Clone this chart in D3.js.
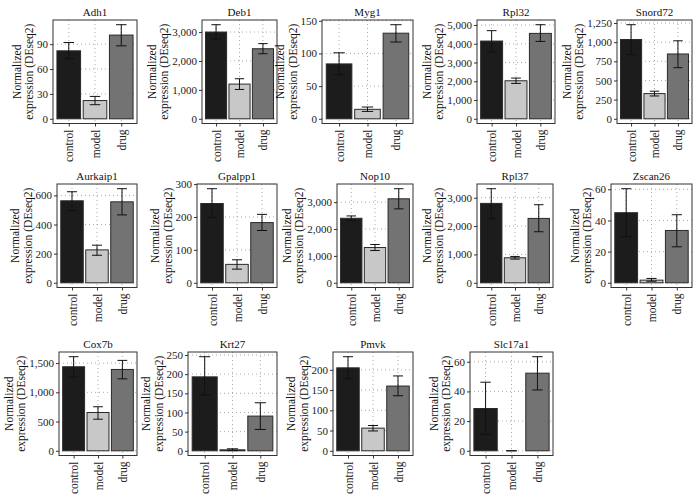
<!DOCTYPE html>
<html><head><meta charset="utf-8">
<script src="https://cdn.jsdelivr.net/npm/d3@7"></script>
<style>body{margin:0;background:#fff} svg{display:block}</style>
</head><body>
<svg id="chart" width="700" height="500"></svg>
<script>
// ---------- data ----------
const genes = ["Adh1","Deb1","Myg1","Rpl32","Snord72","Aurkaip1","Gpalpp1","Nop10","Rpl37","Zscan26","Cox7b","Krt27","Pmvk","Slc17a1"];
const groups = ["control","model","drug"];
const means = [
  [82,22,101],[3000,1200,2423],[84,14.5,131],[4146,2028,4555],[1035,329,846],
  [563,226,556],[241,56,183],[2400,1312,3125],[2800,882,2270],[45,1.7,33.6],
  [1437,655,1391],[193,2.6,90.6],[205,56,160],[28.5,0,52.3]
];
const lower = [
  [72.5,17,88],[2758,1015,2250],[67.5,11.3,117.5],[3560,1886,4128],[838,298,667],
  [496,189,466],[199,41.5,159],[2325,1200,2750],[2259,835,1800],[29.6,1.0,23.1],
  [1264,540,1230],[145.5,0.5,55.7],[178,49,136],[11.1,0,41]
];
const upper = [
  [92,27,113.5],[3254,1385,2600],[101,18,144],[4700,2171,5018],[1228,360,1018],
  [625,258,646],[286,70,208],[2487,1425,3500],[3318,929,2753],[60.4,2.8,43.7],
  [1609,753,1546],[245.6,5.2,125.4],[232.5,62.5,185],[46.2,0,63.4]
];
const yTicks = [
  [0,30,60,90],[0,1000,2000,3000],[0,50,100,150],[0,1000,2000,3000,4000,5000],[0,250,500,750,1000,1250],
  [0,200,400,600],[0,100,200,300],[0,1000,2000,3000],[0,1000,2000,3000],[0,20,40,60],
  [0,500,1000,1500],[0,50,100,150,200,250],[0,50,100,150,200],[0,20,40,60]
];
const yTitle = ["Normalized","expression (DEseq2)"];

// ---------- layout (panel boxes: left, right; rows: top, bottom) ----------
const panelLR = [
  [53,137],[202,277],[322,413],[477,555],[617,692],
  [57,137],[197,277],[337,413],[477,553],[611,692],
  [59,137],[188,277],[333,413],[470,553]
];
const rowTB = [[20,123.5],[184,287.5],[352,455.5]];
const colors = {control:"#1c1c1c", model:"#c8c8c8", drug:"#737373"};
const font = "'Liberation Serif','DejaVu Serif',serif";

const svg = d3.select("#chart");
svg.append("rect").attr("width",700).attr("height",500).attr("fill","#fff");

genes.forEach((gene,i)=>{
  const row = Math.floor(i/5);
  const [L,R] = panelLR[i];
  const [T,B] = rowTB[row];
  const lo = Math.min(0, d3.min(lower[i])), hi = d3.max(upper[i]);
  const pad = (hi-lo)*0.05;
  const y = d3.scaleLinear().domain([lo-pad, hi+pad]).range([B,T]);
  const x = d3.scalePoint().domain(groups).range([L,R]).padding(0.6);
  const step = x.step();
  const g = svg.append("g");

  // grid
  g.selectAll(".hg").data(yTicks[i]).join("line")
    .attr("x1",L).attr("x2",R).attr("y1",d=>y(d)).attr("y2",d=>y(d))
    .attr("stroke","#a0a0a0").attr("stroke-width",0.9).attr("stroke-dasharray","1,3");
  g.selectAll(".vg").data(groups).join("line")
    .attr("x1",d=>x(d)).attr("x2",d=>x(d)).attr("y1",T).attr("y2",B)
    .attr("stroke","#a0a0a0").attr("stroke-width",0.9).attr("stroke-dasharray","1,3");

  // bars
  const bw = step*0.9;
  g.selectAll(".bar").data(groups).join("rect")
    .attr("x",d=>x(d)-bw/2).attr("width",bw)
    .attr("y",(d,j)=>y(Math.max(0,means[i][j])))
    .attr("height",(d,j)=>Math.abs(y(0)-y(means[i][j])))
    .attr("fill",d=>colors[d]).attr("stroke","#2a2a2a").attr("stroke-width",1);

  // error bars
  const cw = step*0.4;
  const eb = g.selectAll(".eb").data(groups).join("g").attr("stroke","#111").attr("stroke-width",1);
  eb.append("line").attr("x1",d=>x(d)).attr("x2",d=>x(d))
    .attr("y1",(d,j)=>y(lower[i][j])).attr("y2",(d,j)=>y(upper[i][j]));
  eb.append("line").attr("x1",d=>x(d)-cw/2).attr("x2",d=>x(d)+cw/2)
    .attr("y1",(d,j)=>y(lower[i][j])).attr("y2",(d,j)=>y(lower[i][j]));
  eb.append("line").attr("x1",d=>x(d)-cw/2).attr("x2",d=>x(d)+cw/2)
    .attr("y1",(d,j)=>y(upper[i][j])).attr("y2",(d,j)=>y(upper[i][j]));

  // border
  g.append("rect").attr("x",L).attr("y",T).attr("width",R-L).attr("height",B-T)
    .attr("fill","none").attr("stroke","#333").attr("stroke-width",1);

  // y axis
  const yAx = g.append("g").attr("transform",`translate(${L},0)`)
    .call(d3.axisLeft(y).tickValues(yTicks[i]).tickFormat(d3.format(",")).tickSize(3).tickPadding(2));
  yAx.select(".domain").remove();
  yAx.selectAll("line").attr("stroke","#333");
  yAx.selectAll("text").attr("font-family",font).attr("font-size",11).attr("fill","#222");
  let lw = 0;
  yAx.selectAll("text").each(function(){ lw = Math.max(lw, this.getComputedTextLength()); });

  // x axis
  const xAx = g.append("g").attr("transform",`translate(0,${B})`)
    .call(d3.axisBottom(x).tickSize(3).tickPadding(0));
  xAx.select(".domain").remove();
  xAx.selectAll("line").attr("stroke","#333");
  xAx.selectAll("text").attr("font-family",font).attr("font-size",11.5).attr("fill","#222")
    .attr("transform","translate(0,6) rotate(-90)").attr("text-anchor","end")
    .attr("dy","0.35em").attr("y",0).attr("x",0);

  // title
  g.append("text").attr("x",(L+R)/2).attr("y",T-4).attr("text-anchor","middle")
    .attr("font-family",font).attr("font-size",11).attr("fill","#111").text(gene);

  // y title
  const cy = (T+B)/2;
  const x2 = L - 5 - lw - 8;
  yTitle.forEach((t,k)=>{
    const xx = x2 - (1-k)*12.5;
    g.append("text").attr("transform",`translate(${xx},${cy}) rotate(-90)`)
      .attr("text-anchor","middle").attr("dy","0.35em")
      .attr("font-family",font).attr("font-size",11.5).attr("fill","#111").text(t);
  });
});
</script>
</body></html>
